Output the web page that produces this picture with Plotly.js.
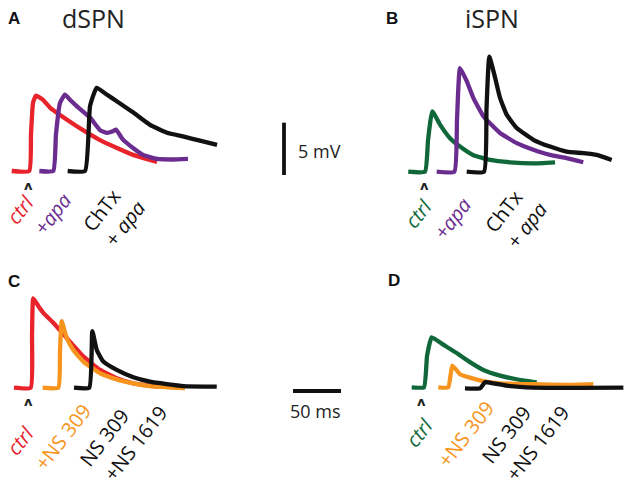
<!DOCTYPE html>
<html><head><meta charset="utf-8">
<script src="https://cdn.plot.ly/plotly-3.0.1.min.js"></script>
<style>html,body{margin:0;padding:0;background:#fff}#chart{width:630px;height:487px}</style>
</head><body><div id="chart"></div>
<script>
// ---------- data (time in ms relative to stimulus, voltage in mV above baseline) ----------
// Panel A: dSPN
const aCtrlT = [-17.5, 0.8, 2.6, 4.7, 7.8, 15.1, 22.4, 40.1, 56.8, 74.5, 92.2, 108.9, 126.6, 133.9];
const aCtrlV = [0, 0, 3.5, 6.5, 7.2, 6.8, 6.06, 4.9, 3.9, 2.95, 2.2, 1.54, 1.06, 0.87];
const aApaT  = [11.3, 25.8, 28.6, 32.8, 38.0, 43.2, 50.2, 64.1, 74.5, 81.8, 88.0, 91.1, 98.4, 108.9, 119.3, 133.9, 150.5, 166.1];
const aApaV  = [0, 0, 3.5, 6.5, 7.3, 6.8, 6.2, 5.1, 3.9, 3.65, 3.8, 3.95, 3.0, 2.2, 1.54, 1.15, 1.1, 1.15];
const aChTxT = [40.8, 58.9, 64.1, 71.0, 81.5, 91.9, 108.9, 126.6, 144.3, 160.9, 178.6, 196.4];
const aChTxV = [0, 0, 6.2, 7.95, 7.3, 6.67, 5.6, 4.4, 3.65, 3.3, 2.9, 2.5];
// Panel B: iSPN
const bCtrlT = [-16.4, 1.0, 4.2, 8.6, 16.7, 27.1, 37.5, 51.0, 68.8, 89.6, 113.5, 136.5];
const bCtrlV = [0, 0, 3.0, 5.77, 4.5, 3.2, 2.4, 1.6, 1.12, 0.9, 0.8, 0.9];
const bApaT  = [13.2, 31.6, 34.4, 37.5, 44.5, 51.4, 61.8, 79.2, 96.6, 113.9, 131.3, 148.6, 165.9];
const bApaV  = [0, 0, 5.0, 9.9, 8.65, 7.05, 5.3, 3.7, 2.73, 2.1, 1.6, 1.29, 0.9];
const bChTxT = [44.5, 62.5, 65.1, 68.0, 74.0, 79.2, 86.1, 96.6, 113.9, 131.3, 148.6, 165.9, 179.9, 195.5];
const bChTxV = [0, 0, 6.0, 11.0, 9.0, 7.05, 5.45, 4.17, 3.05, 2.4, 1.92, 1.77, 1.6, 1.12];
// Panel C: dSPN, NS 309 / NS 1619
const cCtrlT = [-14.9, 2.5, 3.9, 5.2, 10.4, 15.6, 26.0, 40.0, 57.3, 74.7, 92.1, 109.4, 135.4];
const cCtrlV = [0, 0, 5.0, 8.54, 7.8, 7.15, 6.2, 4.75, 3.0, 1.7, 0.9, 0.42, 0.1];
const cNS309T = [15.0, 31.3, 33.0, 34.8, 40.0, 46.9, 57.3, 74.7, 92.1, 109.4, 126.8, 163.2];
const cNS309V = [0, 0, 3.5, 6.35, 4.75, 3.6, 2.5, 1.38, 0.8, 0.42, 0.16, -0.05];
const cNS1619T = [47.6, 63.5, 66.7, 71.3, 78.1, 92.1, 109.4, 126.8, 144.2, 161.5, 196.3];
const cNS1619V = [0, 0, 5.4, 3.6, 2.5, 1.7, 1.0, 0.58, 0.35, 0.16, 0.1];
// Panel D: iSPN, NS 309 / NS 1619
const dCtrlT = [-9.7, 3.1, 6.3, 11.1, 23.2, 37.2, 51.0, 64.9, 82.3, 99.7, 120.5];
const dCtrlV = [0, 0, 3.0, 4.77, 4.07, 3.27, 2.4, 1.66, 1.12, 0.77, 0.48];
const dNS309T = [18.0, 28.4, 32.6, 40.6, 51.0, 64.9, 82.3, 117.0, 151.8, 179.5];
const dNS309V = [0, 0, 2.08, 1.25, 0.92, 0.6, 0.38, 0.29, 0.22, 0.29];
const dNS1619T = [45.8, 61.5, 66.7, 75.3, 89.3, 117.0, 210.8];
const dNS1619V = [-0.1, -0.1, 0.48, 0.38, 0.15, -0.04, -0.04];
// scale bars
const scaleMV = 5;
const scaleMS = 50;
// labels
const panelLetters = ['A', 'B', 'C', 'D'];
const panelTitles = ['dSPN', 'iSPN'];

// ---------- layout constants ----------
const W = 630, H = 487;
const PX_MS = 0.96, PX_MV = 10.47;
const RED = '#e8232b', PURPLE = '#6a2c8f', GREEN = '#10683a', ORANGE = '#f7941d', BLACK = '#111111';
// pixel origin (stimulus time, baseline) of each panel
const origins = [[28.5, 171], [424, 171.7], [28.3, 387.7], [421, 387.3]];
const axN = ['', '2', '3', '4'];

const layout = {
  width: W, height: H, margin: {l: 0, r: 0, t: 0, b: 0},
  paper_bgcolor: '#fff', plot_bgcolor: 'rgba(0,0,0,0)',
  showlegend: false, annotations: [], shapes: []
};
origins.forEach((o, i) => {
  const [ox, oy] = o;
  layout['xaxis' + axN[i]] = {domain: [0, 1], range: [-ox / PX_MS, (W - ox) / PX_MS], visible: false, anchor: 'y' + axN[i], fixedrange: true};
  layout['yaxis' + axN[i]] = {domain: [0, 1], range: [-(H - oy) / PX_MV, oy / PX_MV], visible: false, anchor: 'x' + axN[i], fixedrange: true};
});

function tr(t, v, color, i) {
  return {x: t, y: v, type: 'scatter', mode: 'lines', xaxis: 'x' + axN[i], yaxis: 'y' + axN[i],
    line: {color: color, width: 4.3, shape: 'spline', smoothing: 0.4}, hoverinfo: 'skip'};
}
const data = [
  tr(aCtrlT, aCtrlV, RED, 0), tr(aApaT, aApaV, PURPLE, 0), tr(aChTxT, aChTxV, BLACK, 0),
  tr(bCtrlT, bCtrlV, GREEN, 1), tr(bApaT, bApaV, PURPLE, 1), tr(bChTxT, bChTxV, BLACK, 1),
  tr(cCtrlT, cCtrlV, RED, 2), tr(cNS309T, cNS309V, ORANGE, 2), tr(cNS1619T, cNS1619V, BLACK, 2),
  tr(dCtrlT, dCtrlV, GREEN, 3), tr(dNS309T, dNS309V, ORANGE, 3), tr(dNS1619T, dNS1619V, BLACK, 3)
];

// scale bars (5 mV vertical in panel A axes, 50 ms horizontal in panel C axes)
const vbX = (284 - origins[0][0]) / PX_MS, vbY0 = (origins[0][1] - 175) / PX_MV;
layout.shapes.push({type: 'line', xref: 'x', yref: 'y', x0: vbX, x1: vbX, y0: vbY0, y1: vbY0 + scaleMV, line: {color: BLACK, width: 3.8}});
const hbX0 = (293 - origins[2][0]) / PX_MS, hbY = (origins[2][1] - 391) / PX_MV;
layout.shapes.push({type: 'line', xref: 'x3', yref: 'y3', x0: hbX0, x1: hbX0 + scaleMS, y0: hbY, y1: hbY, line: {color: BLACK, width: 3.8}});

function pa(px, py, text, opts) {
  layout.annotations.push(Object.assign({xref: 'paper', yref: 'paper', x: px / W, y: 1 - py / H,
    text: text, showarrow: false, xanchor: 'center', yanchor: 'middle',
    font: {family: 'Open Sans', size: 18, color: BLACK}}, opts || {}));
}
// scale bar labels
pa(319, 151, scaleMV + ' mV', {font: {family: 'Open Sans', size: 18, color: '#222'}});
pa(315, 411, scaleMS + ' ms', {font: {family: 'Open Sans', size: 18, color: '#222'}});
// panel letters & titles
const letterPos = [[14, 19], [392, 19], [14, 281], [394, 280]];
panelLetters.forEach((L, i) => pa(letterPos[i][0], letterPos[i][1], '<b>' + L + '</b>', {font: {family: 'Liberation Sans', size: 17, color: BLACK}}));
pa(93, 18, panelTitles[0], {font: {family: 'Open Sans', size: 25, color: '#222'}});
pa(492, 18, panelTitles[1], {font: {family: 'Open Sans', size: 25, color: '#222'}});
// stimulus arrows
origins.forEach((o, i) => {
  layout.annotations.push({xref: 'x' + axN[i], yref: 'y' + axN[i], x: 0, y: -14 / PX_MV, text: '<b>ʌ</b>',
    showarrow: false, xanchor: 'center', yanchor: 'middle', font: {family: 'DejaVu Sans', size: 13, color: '#222'}});
});
// condition labels (rotated)
const ANG = -52;
function lab(px, py, text, color) { pa(px, py, text, {textangle: ANG, borderpad: 0, font: {family: 'Open Sans', size: 20, color: color}}); }
lab(20, 209, '<i>ctrl</i>', RED);
lab(53, 214, '<i>+apa</i>', PURPLE);
lab(101, 210, 'ChTx', BLACK);
lab(125, 224, '+ <i>apa</i>', BLACK);
lab(418, 213, '<i>ctrl</i>', GREEN);
lab(452, 218, '<i>+apa</i>', PURPLE);
lab(503, 211, 'ChTx', BLACK);
lab(526, 225, '+ <i>apa</i>', BLACK);
lab(20, 440, '<i>ctrl</i>', RED);
lab(62, 437, '+NS 309', ORANGE);
lab(104, 437, 'NS 309', BLACK);
lab(135, 443, '+NS 1619', BLACK);
lab(419, 432, '<i>ctrl</i>', GREEN);
lab(465, 434, '+NS 309', ORANGE);
lab(506, 434, 'NS 309', BLACK);
lab(537, 443, '+NS 1619', BLACK);

Plotly.newPlot('chart', data, layout, {displayModeBar: false, staticPlot: true});
</script></body></html>
